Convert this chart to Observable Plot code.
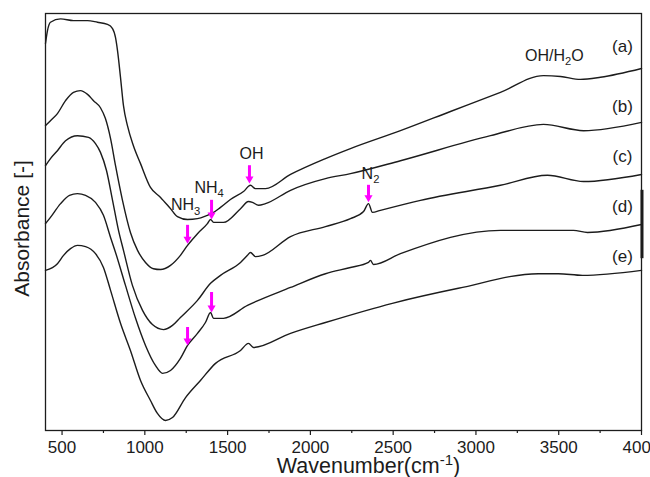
<!DOCTYPE html>
<html>
<head>
<meta charset="utf-8">
<script src="https://cdn.jsdelivr.net/npm/d3@7"></script>
<script src="https://cdn.jsdelivr.net/npm/@observablehq/plot@0.6"></script>
<style>
  html, body { margin: 0; padding: 0; background: #fff; }
  svg { display: block; }
</style>
</head>
<body>
<script>
// FTIR spectra of samples (a)–(e), stacked with a vertical offset (arbitrary absorbance units)
const wavenumberA = [400,412,430,491,569,654,714,774,805,823,835,853,871,895,931,974,1034,1095,1155,1197,1258,1318,1378,1403,1457,1517,1596,1638,1668,1729,1880,2091,2242,2544,2846,3148,3408,3511,3631,3752,4000];
const absorbanceA = [92.8,95.9,97.9,98.7,98.3,98.3,97.9,97.4,96.4,94.2,91.1,84.7,77.9,73.1,68.3,64.0,58.3,55.9,53.2,51.3,50.6,50.8,51.6,52.0,53.5,55.4,57.3,58.8,58.0,58.0,61.4,65.2,67.6,71.9,76.5,81.1,85.1,84.9,84.2,84.7,86.8];

const wavenumberB = [400,430,472,521,569,611,654,690,732,762,793,823,865,913,956,1004,1052,1095,1155,1215,1258,1318,1378,1397,1415,1475,1578,1626,1650,1687,1729,1880,2091,2242,2544,3088,3408,3650,4000];
const absorbanceB = [73.1,74.3,76.0,79.1,81.1,81.5,80.6,79.1,77.4,74.8,70.0,63.5,55.2,47.5,43.2,40.3,38.8,38.6,39.6,42.0,44.4,47.2,49.6,50.6,49.9,49.9,53.2,54.9,54.7,54.0,54.4,57.6,60.4,61.6,64.7,70.7,73.4,71.9,73.9];

const wavenumberC = [400,430,472,521,593,660,702,732,768,805,841,871,925,986,1046,1113,1167,1215,1318,1397,1457,1578,1620,1638,1668,1711,1880,2091,2242,2321,2351,2375,2423,2665,3148,3432,3650,4000];
const absorbanceC = [63.5,65.2,67.1,69.5,70.7,70.3,68.8,66.7,62.4,55.2,48.0,43.2,34.8,28.8,25.4,24.2,25.2,27.1,31.2,35.3,37.2,40.3,42.0,42.7,41.7,42.0,46.5,48.9,50.8,52.5,54.4,52.3,52.8,55.2,58.8,61.2,59.7,61.4];

const wavenumberD = [400,430,491,545,593,642,702,750,793,823,883,944,1004,1064,1107,1155,1215,1258,1318,1366,1397,1415,1475,1620,1880,2091,2242,2351,2363,2381,2544,3148,3589,3674,4000];
const absorbanceD = [49.6,51.1,54.4,56.4,56.8,56.4,54.7,51.6,46.3,42.7,34.8,26.9,20.4,15.6,13.7,14.4,17.3,20.4,23.3,25.9,28.3,26.9,26.9,30.0,34.3,37.6,39.1,40.3,40.8,39.8,42.4,48.0,48.0,47.5,49.4];

const wavenumberE = [400,472,509,551,593,642,702,750,793,853,913,974,1034,1076,1125,1167,1246,1336,1427,1578,1626,1656,1880,2091,2495,2894,3377,3498,3643,4000];
const absorbanceE = [38.4,40.0,42.0,43.6,44.4,44.1,42.4,39.1,33.6,25.7,19.2,12.0,7.2,4.1,2.4,3.1,7.9,12.0,16.1,19.2,20.9,19.9,23.3,25.9,30.5,34.1,37.6,37.6,37.2,38.4];

// Sample labels at the right end of each spectrum
const sampleLabels = ["(a)", "(b)", "(c)", "(d)", "(e)"];
const sampleLabelX = [3885, 3885, 3885, 3885, 3885];
const sampleLabelY = [92.1, 77.7, 65.7, 53.8, 41.7];

// Band assignments (_{..} = subscript)
const bandLabels = ["NH_{3}", "NH_{4}", "OH", "N_{2}", "OH/H_{2}O"];
const bandLabelX = [1246, 1388, 1644, 2363, 3474];
const bandLabelY = [54.0, 58.3, 66.4, 61.6, 89.9];

// Arrows marking the bands: position, tail and tip
const arrowX = [1258, 1403, 1632, 2351, 1403, 1258];
const arrowTail = [49.2, 55.2, 63.5, 58.8, 33.1, 24.7];
const arrowTip = [44.8, 50.6, 59.2, 54.7, 28.3, 20.4];

// Absorbance scale bar on the right border
const scaleBarX = [4000];
const scaleBarLow = [41.2];
const scaleBarHigh = [57.6];

const majorTicks = [500, 1000, 1500, 2000, 2500, 3000, 3500, 4000];
const minorTicks = [750, 1250, 1750, 2250, 2750, 3250, 3750];

const spectra = [
  ["a", wavenumberA, absorbanceA],
  ["b", wavenumberB, absorbanceB],
  ["c", wavenumberC, absorbanceC],
  ["d", wavenumberD, absorbanceD],
  ["e", wavenumberE, absorbanceE]
].flatMap(([sample, wn, ab]) => wn.map((w, i) => ({sample, wavenumber: w, absorbance: ab[i]})));

const samples = sampleLabels.map((t, i) => ({text: t, x: sampleLabelX[i], y: sampleLabelY[i]}));
const bands = bandLabels.map((t, i) => ({text: t, x: bandLabelX[i], y: bandLabelY[i]}));
const arrows = arrowX.map((x, i) => ({x, tail: arrowTail[i], tip: arrowTip[i]}));
const scaleBar = scaleBarX.map((x, i) => ({x, y1: scaleBarLow[i], y2: scaleBarHigh[i]}));

const ink = "#1c1c1c";
const magenta = "#ff00ff";

const chart = Plot.plot({
  width: 650,
  height: 477,
  marginLeft: 45,
  marginRight: 9,
  marginTop: 13,
  marginBottom: 47,
  style: {fontFamily: "'Liberation Sans', Arial, sans-serif", fontSize: "17px", color: ink, background: "#fff"},
  x: {domain: [400, 4000], label: null},
  y: {domain: [0, 100], axis: null, label: null},
  marks: [
    Plot.axisX({ticks: minorTicks, tickSize: 3, tickFormat: () => "", strokeWidth: 1.2, label: null}),
    Plot.axisX({ticks: majorTicks, tickSize: 5, tickPadding: 5, tickFormat: d => `${d}`, fontSize: 17, strokeWidth: 1.2, label: null}),
    Plot.line(spectra, {x: "wavenumber", y: "absorbance", z: "sample", stroke: ink, strokeWidth: 1.4, curve: "monotone-x"}),
    Plot.frame({stroke: ink, strokeWidth: 1.3}),
    Plot.ruleX(scaleBar, {x: "x", y1: "y1", y2: "y2", stroke: ink, strokeWidth: 3, dx: 0.5}),
    Plot.ruleX(arrows, {x: "x", y1: "tail", y2: "tip", stroke: magenta, strokeWidth: 3, insetBottom: 5}),
    Plot.dot(arrows, {x: "x", y: "tip", symbol: "triangle", rotate: 180, r: 3, fill: magenta, stroke: "none", dy: -4.7}),
    Plot.text(bands, {x: "x", y: "y", text: "text", fontSize: 16, fill: ink}),
    Plot.text(samples, {x: "x", y: "y", text: "text", fontSize: 17, fill: ink}),
    Plot.text(["Absorbance [-]"], {frameAnchor: "left", textAnchor: "middle", lineAnchor: "middle", dx: -23, dy: 6.5, rotate: -90, fontSize: 21, fill: ink}),
    Plot.text(["Wavenumber(cm^{-1})"], {frameAnchor: "bottom", textAnchor: "middle", lineAnchor: "middle", dx: 25, dy: 36, fontSize: 21.5, fill: ink})
  ]
});

document.body.appendChild(chart);

// Turn _{..} and ^{..} into sub- and superscript tspans
d3.select(chart).selectAll("text").each(function () {
  const s = this.textContent;
  if (!/[_^]\{/.test(s)) return;
  const size = parseFloat(getComputedStyle(this).fontSize) || 16;
  const el = d3.select(this);
  el.text(null);
  let shift = 0;
  for (const part of s.split(/([_^]\{[^}]*\})/)) {
    if (!part) continue;
    const m = part.match(/^([_^])\{([^}]*)\}$/);
    if (m) {
      const target = m[1] === "_" ? 0.28 * size : -0.38 * size;
      el.append("tspan").attr("dy", target - shift).attr("font-size", 0.7 * size).text(m[2]);
      shift = target;
    } else {
      el.append("tspan").attr("dy", -shift).text(part);
      shift = 0;
    }
  }
});
</script>
</body>
</html>
